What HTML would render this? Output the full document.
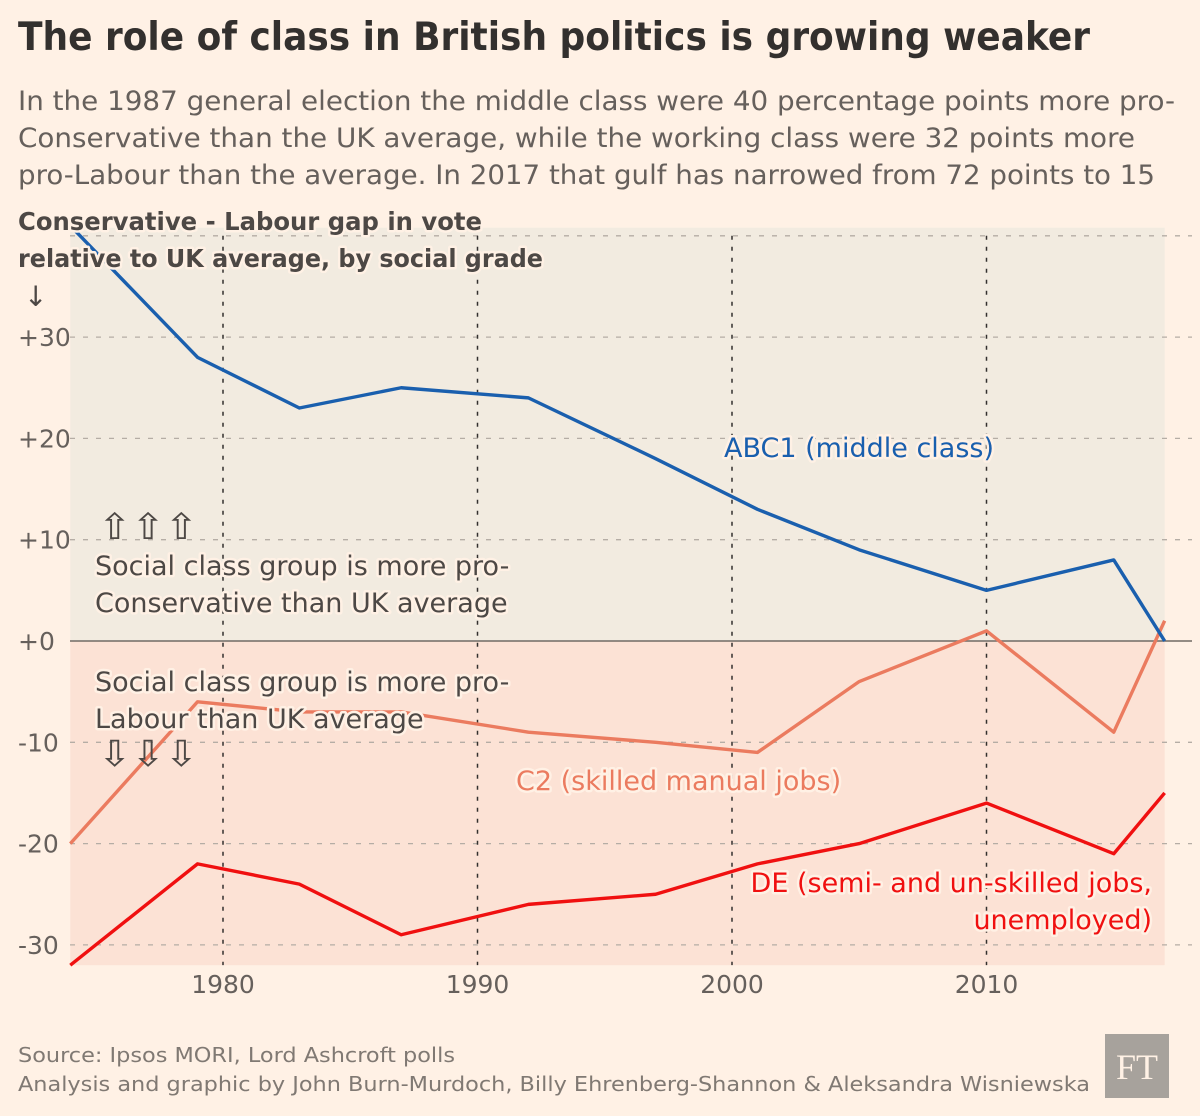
<!DOCTYPE html>
<html><head><meta charset="utf-8"><style>
body{margin:0;background:#fff1e5;}
svg{display:block;font-family:"DejaVu Sans","Liberation Sans",sans-serif;}
.halo{paint-order:stroke;stroke-width:5px;stroke-linejoin:round;}
</style></head><body>
<svg id="c" width="1200" height="1116" viewBox="0 0 1200 1116">
<rect width="1200" height="1116" fill="#fff1e5"/>
<text x="18" y="50" font-size="39" font-weight="bold" fill="#33302e" textLength="1072" lengthAdjust="spacingAndGlyphs">The role of class in British politics is growing weaker</text>
<g font-size="27" fill="#66605c">
<text x="18" y="110" textLength="1157" lengthAdjust="spacingAndGlyphs">In the 1987 general election the middle class were 40 percentage points more pro-</text>
<text x="18" y="147" textLength="1117" lengthAdjust="spacingAndGlyphs">Conservative than the UK average, while the working class were 32 points more</text>
<text x="18" y="184" textLength="1137" lengthAdjust="spacingAndGlyphs">pro-Labour than the average. In 2017 that gulf has narrowed from 72 points to 15</text>
</g>
<g id="plot"></g>
<g font-size="25" font-weight="bold" fill="#4d4845" class="halo" stroke="#fff1e5">
<text x="18" y="230" textLength="464" lengthAdjust="spacingAndGlyphs">Conservative - Labour gap in vote</text>
<text x="18" y="267" textLength="525" lengthAdjust="spacingAndGlyphs">relative to UK average, by social grade</text>
<text x="24" y="306" font-weight="normal" font-size="28">↓</text>
</g>
<g font-size="20" fill="#807973">
<text x="18" y="1062" textLength="437" lengthAdjust="spacingAndGlyphs">Source: Ipsos MORI, Lord Ashcroft polls</text>
<text x="18" y="1091" textLength="1072" lengthAdjust="spacingAndGlyphs">Analysis and graphic by John Burn-Murdoch, Billy Ehrenberg-Shannon &amp; Aleksandra Wisniewska</text>
</g>
<rect x="1105" y="1034" width="64" height="64" fill="#a7a29c"/>
<text x="1137" y="1079" font-family="Liberation Serif,serif" font-size="36" fill="#fff1e5" text-anchor="middle">FT</text>
</svg>
<script>
const years=[1974,1979,1983,1987,1992,1997,2001,2005,2010,2015,2017];
const abc1=[41,28,23,25,24,18,13,9,5,8,0];
const c2=[-20,-6,-7,-7,-9,-10,-11,-4,1,-9,2];
const de=[-32,-22,-24,-29,-26,-25,-22,-20,-16,-21,-15];
const yTicks=[30,20,10,0,-10,-20,-30];
const yTickLabels=["+30","+20","+10","+0","-10","-20","-30"];
const xTicks=[1980,1990,2000,2010];
const NS='http://www.w3.org/2000/svg';
const x=v=>223+(v-1980)*25.45;
const y=v=>641-v*10.13;
const g=document.getElementById('plot');
function mk(t,a,p){const e=document.createElementNS(NS,t);for(const k in a)e.setAttribute(k,a[k]);(p||g).appendChild(e);return e;}
let r=mk('rect',{x:x(1974),y:y(40.8),width:x(2017)-x(1974),height:y(0)-y(40.8),fill:'#f2ebe0'});


r=mk('rect',{x:x(1974),y:y(0),width:x(2017)-x(1974),height:y(-32)-y(0),fill:'#fce2d5'});


yTicks.forEach((t,i)=>{
 if(t!==0){const l=mk('line',{x1:70,x2:1192,y1:y(t),y2:y(t),stroke:'#b5ada5','stroke-dasharray':'5,8','stroke-width':1.3});
 
 }
 const tx=mk('text',{x:18,y:y(t)+9,'font-size':25,fill:'#66605c'});
 
 
 tx.textContent=yTickLabels[i];
});
mk('line',{x1:70,x2:1192,y1:y(40),y2:y(40),stroke:'#b5ada5','stroke-dasharray':'5,8','stroke-width':1.3});
xTicks.forEach(t=>{
 const l=mk('line',{x1:x(t),x2:x(t),y1:y(40),y2:y(-32),stroke:'#33302e','stroke-dasharray':'4,7','stroke-width':1.5});
 
 
 const tx=mk('text',{x:x(t),y:993,'font-size':25,fill:'#66605c','text-anchor':'middle'});
 
 
 tx.textContent=t;
});
const z=mk('line',{x1:70,x2:1192,y1:y(0),y2:y(0),stroke:'#706a65','stroke-width':1.5});


function series(d,c,n){
 const p=mk('polyline',{points:d.map((v,i)=>x(years[i])+','+y(v)).join(' '),fill:'none',stroke:c,'stroke-width':3.4,'stroke-linejoin':'round'});
 
 
}
series(c2,'#eb7b5f','c2-line');
series(de,'#f01010','de-line');
series(abc1,'#1a5fae','abc1-line');
function lbl(lines,xx,yy,c,n,anchor){
 lines.forEach((s,i)=>{const t=mk('text',{x:xx,y:yy+i*37,'font-size':27,fill:c,'text-anchor':anchor||'start',stroke:'#fff1e5',class:'halo'});
 
 
 t.textContent=s;});
}
lbl(['ABC1 (middle class)'],724,457,'#1a5fae','abc1-label');
lbl(['C2 (skilled manual jobs)'],516,790,'#eb7b5f','c2-label');
lbl(['DE (semi- and un-skilled jobs,','unemployed)'],1152,892,'#f01010','de-label','end');
lbl(['Social class group is more pro-','Conservative than UK average'],95,575,'#4d4845','conservative-annotation');
lbl(['Social class group is more pro-','Labour than UK average'],95,691,'#4d4845','labour-annotation');
const ar=mk('text',{x:98,y:539,'font-size':36,fill:'#4d4845',textLength:100,lengthAdjust:'spacingAndGlyphs'});


ar.textContent='⇧⇧⇧';
const ad=mk('text',{x:98,y:766,'font-size':36,fill:'#4d4845',textLength:100,lengthAdjust:'spacingAndGlyphs'});


ad.textContent='⇩⇩⇩';
</script>
</body></html>
